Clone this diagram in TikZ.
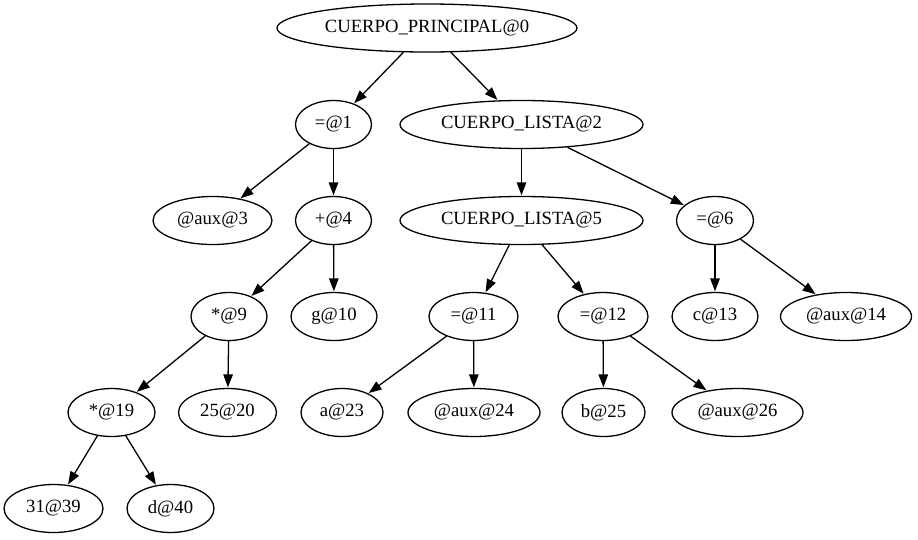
\documentclass[tikz,border=0pt]{standalone}
\usepackage{fontspec}
\setmainfont{Liberation Serif}
\usetikzlibrary{shapes.geometric,arrows.meta}
\tikzset{
  tn/.style={ellipse, draw, line width=1.3pt, inner sep=0pt, minimum height=48pt,
    font=\fontsize{18.67}{22}\selectfont},
  edge/.style={line width=1.3pt, -{Triangle[length=13pt,width=9.5pt]}, shorten >=0.5pt}
}
\begin{document}
\begin{tikzpicture}[x=1pt,y=-1pt]
\useasboundingbox (0,0) rectangle (918,539);
% row 0
\node[tn, minimum width=300pt] (n0) at (427,28) {CUERPO\_PRINCIPAL@0};
% row 1
\node[tn, minimum width=76pt] (n1) at (333.5,124.5) {=@1};
\node[tn, minimum width=243pt] (n2) at (521.5,124.5) {CUERPO\_LISTA@2};
% row 2
\node[tn, minimum width=119pt] (n3) at (212.5,220.5) {@aux@3};
\node[tn, minimum width=76pt] (n4) at (333.5,220.5) {+@4};
\node[tn, minimum width=243pt] (n5) at (521.5,220.5) {CUERPO\_LISTA@5};
\node[tn, minimum width=77pt] (n6) at (715,220.5) {=@6};
% row 3
\node[tn, minimum width=76pt] (n9) at (229,316.5) {*@9};
\node[tn, minimum width=86pt] (n10) at (334,316.5) {g@10};
\node[tn, minimum width=89pt] (n11) at (473.5,316.5) {=@11};
\node[tn, minimum width=90pt] (n12) at (603,316.5) {=@12};
\node[tn, minimum width=86pt] (n13) at (715,316.5) {c@13};
\node[tn, minimum width=131pt] (n14) at (846,316.5) {@aux@14};
% row 4
\node[tn, minimum width=87pt] (n19) at (111.5,412.5) {*@19};
\node[tn, minimum width=98pt] (n20) at (227.5,412.5) {25@20};
\node[tn, minimum width=82pt] (n23) at (342,412.5) {a@23};
\node[tn, minimum width=132pt] (n24) at (474,412.5) {@aux@24};
\node[tn, minimum width=83pt] (n25) at (603.5,412.5) {b@25};
\node[tn, minimum width=131pt] (n26) at (737.5,412.5) {@aux@26};
% row 5
\node[tn, minimum width=99pt] (n39) at (53.5,508.5) {31@39};
\node[tn, minimum width=87pt] (n40) at (170.5,508.5) {d@40};
% edges
\draw[edge] (n0) -- (n1);
\draw[edge] (n0) -- (n2);
\draw[edge] (n1) -- (n3);
\draw[edge] (n1) -- (n4);
\draw[edge] (n2) -- (n5);
\draw[edge] (n2) -- (n6);
\draw[edge] (n4) -- (n9);
\draw[edge] (n4) -- (n10);
\draw[edge] (n5) -- (n11);
\draw[edge] (n5) -- (n12);
\draw[edge] (n6) -- (n13);
\draw[edge] (n6) -- (n14);
\draw[edge] (n9) -- (n19);
\draw[edge] (n9) -- (n20);
\draw[edge] (n11) -- (n23);
\draw[edge] (n11) -- (n24);
\draw[edge] (n12) -- (n25);
\draw[edge] (n12) -- (n26);
\draw[edge] (n19) -- (n39);
\draw[edge] (n19) -- (n40);
\end{tikzpicture}
\end{document}
